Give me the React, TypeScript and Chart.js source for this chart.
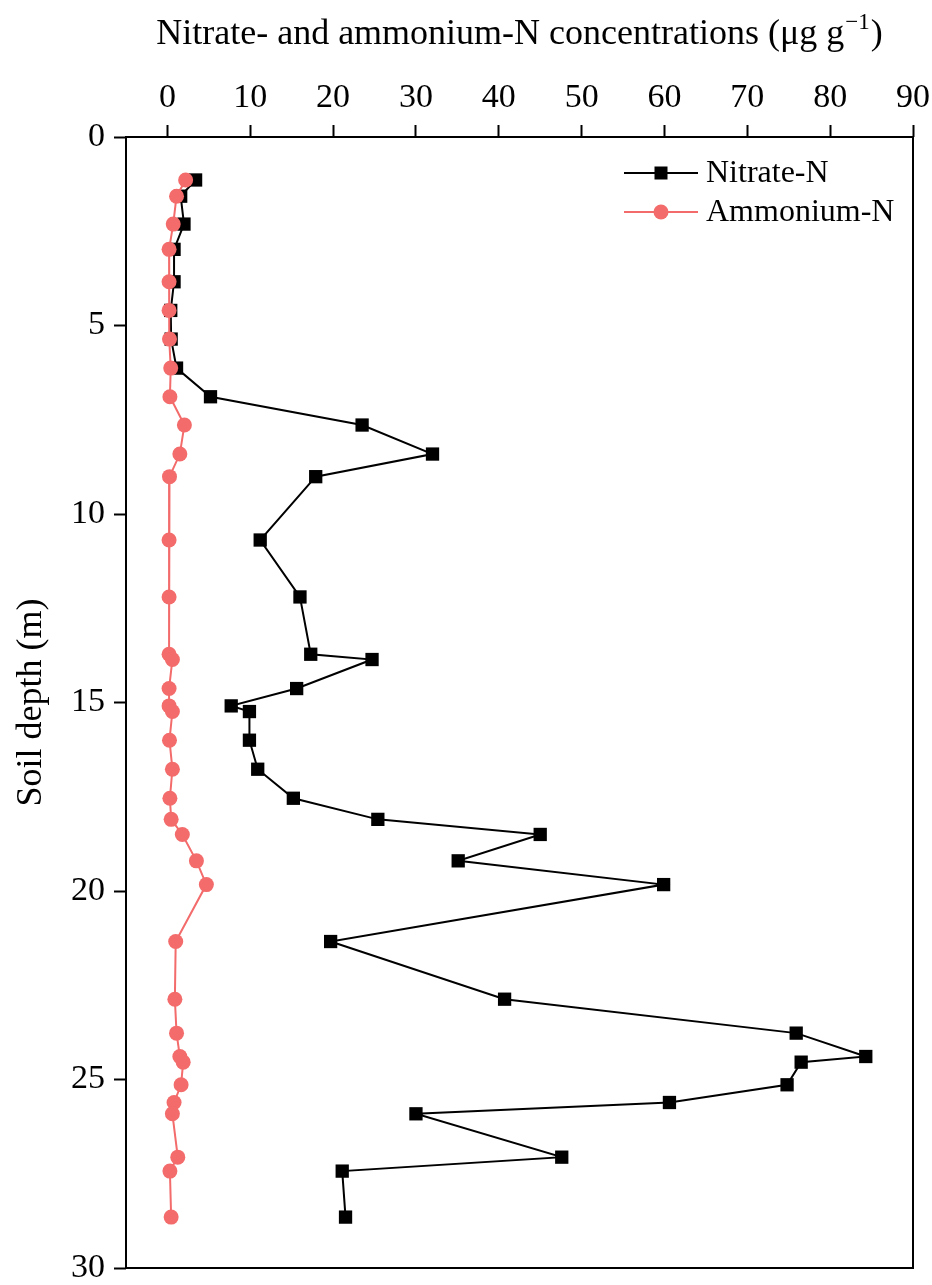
import React, { useEffect, useRef } from "react";
import { Chart, registerables } from "chart.js";

Chart.register(...registerables);

// Soil depth (m) of each sample
const depths = [
  1.14, 1.57, 2.31, 2.98, 3.84, 4.6, 5.36, 6.13, 6.89, 7.64, 8.41, 9.01, 10.69,
  12.2, 13.72, 13.86, 14.63, 15.09, 15.24, 16.0, 16.77, 17.54, 18.1, 18.5, 19.2,
  19.83, 21.34, 22.87, 23.77, 24.39, 24.54, 25.14, 25.61, 25.91, 27.06, 27.43,
  28.65,
];

// Nitrate-N concentrations (µg g-1)
const nitrate = [
  3.4, 1.6, 2.0, 0.8, 0.8, 0.4, 0.45, 1.1, 5.2, 23.5, 32.0, 17.9, 11.2, 16.0,
  17.3, 24.7, 15.6, 7.7, 9.9, 9.9, 10.9, 15.2, 25.4, 45.0, 35.1, 59.9, 19.7,
  40.7, 75.9, 84.3, 76.5, 74.8, 60.6, 30.0, 47.6, 21.1, 21.5,
];

// Ammonium-N concentrations (µg g-1)
const ammonium = [
  2.2, 1.1, 0.7, 0.2, 0.2, 0.2, 0.25, 0.4, 0.3, 2.05, 1.5, 0.25, 0.2, 0.2, 0.2,
  0.6, 0.2, 0.2, 0.6, 0.25, 0.6, 0.3, 0.45, 1.8, 3.5, 4.7, 1.0, 0.9, 1.1, 1.5,
  1.9, 1.65, 0.8, 0.6, 1.25, 0.3, 0.45,
];

const xTicks = [0, 10, 20, 30, 40, 50, 60, 70, 80, 90];
const yTicks = [0, 5, 10, 15, 20, 25, 30];
const xMin = -5;
const xMax = 90;
const yMin = 0;
const yMax = 30;

const seriesNames = ["Nitrate-N", "Ammonium-N"];
const xTitleMain = "Nitrate- and ammonium-N concentrations (μg g";
const xTitleSup = "−1";
const xTitleEnd = ")";
const yTitle = "Soil depth (m)";

const FONT = "'Liberation Serif', 'Times New Roman', serif";
const BLACK = "#000000";
const PINK = "#f36b6b";

const decorPlugin = {
  id: "decor",
  afterDraw(chart: any) {
    const { ctx, chartArea } = chart;
    const { left, top, right, bottom } = chartArea;
    ctx.save();
    // frame
    ctx.strokeStyle = BLACK;
    ctx.lineWidth = 2;
    ctx.strokeRect(left, top, right - left, bottom - top);

    // x axis title (top) with superscript
    ctx.fillStyle = BLACK;
    ctx.textBaseline = "alphabetic";
    ctx.textAlign = "left";
    const mainFont = `36px ${FONT}`;
    const supFont = `23px ${FONT}`;
    ctx.font = mainFont;
    const wMain = ctx.measureText(xTitleMain).width;
    const wEnd = ctx.measureText(xTitleEnd).width;
    ctx.font = supFont;
    const wSup = ctx.measureText(xTitleSup).width;
    const total = wMain + wSup + 2 + wEnd;
    let x = (left + right) / 2 - total / 2;
    const baseY = 44;
    ctx.font = mainFont;
    ctx.fillText(xTitleMain, x, baseY);
    x += wMain + 1;
    ctx.font = supFont;
    ctx.fillText(xTitleSup, x, baseY - 15);
    x += wSup + 1;
    ctx.font = mainFont;
    ctx.fillText(xTitleEnd, x, baseY);

    // y axis title
    ctx.save();
    ctx.translate(32, (top + bottom) / 2);
    ctx.rotate(-Math.PI / 2);
    ctx.textAlign = "center";
    ctx.textBaseline = "middle";
    ctx.font = mainFont;
    ctx.fillText(yTitle, 0, 0);
    ctx.restore();

    // legend
    const lx0 = 624;
    const lx1 = 698;
    const mx = 661;
    const rows = [173, 212];
    chart.data.datasets.forEach((ds: any, i: number) => {
      const y = rows[i];
      ctx.strokeStyle = ds.borderColor;
      ctx.lineWidth = ds.borderWidth;
      ctx.beginPath();
      ctx.moveTo(lx0, y);
      ctx.lineTo(lx1, y);
      ctx.stroke();
      ctx.fillStyle = ds.pointBackgroundColor;
      if (ds.pointStyle === "rect") {
        ctx.fillRect(mx - 6.5, y - 6.5, 13, 13);
      } else {
        ctx.beginPath();
        ctx.arc(mx, y, 7.5, 0, Math.PI * 2);
        ctx.fill();
      }
      ctx.fillStyle = BLACK;
      ctx.font = `32px ${FONT}`;
      ctx.textAlign = "left";
      ctx.textBaseline = "middle";
      ctx.fillText(ds.label, 706, y + 1);
    });
    ctx.restore();
  },
};

export default function App() {
  const ref = useRef<HTMLCanvasElement | null>(null);

  useEffect(() => {
    if (!ref.current) return;
    const nitratePts = depths.map((d, i) => ({ x: nitrate[i], y: d }));
    const ammoniumPts = depths.map((d, i) => ({ x: ammonium[i], y: d }));

    const chart = new Chart(ref.current, {
      type: "scatter",
      data: {
        datasets: [
          {
            label: seriesNames[0],
            data: nitratePts,
            showLine: true,
            borderColor: BLACK,
            borderWidth: 2,
            pointStyle: "rect",
            pointRadius: 9.4,
            pointBorderWidth: 0,
            pointBackgroundColor: BLACK,
            pointBorderColor: BLACK,
            order: 1,
          },
          {
            label: seriesNames[1],
            data: ammoniumPts,
            showLine: true,
            borderColor: PINK,
            borderWidth: 2,
            pointStyle: "circle",
            pointRadius: 7.5,
            pointBorderWidth: 0,
            pointBackgroundColor: PINK,
            pointBorderColor: PINK,
            order: 0,
          },
        ],
      },
      options: {
        responsive: false,
        animation: false,
        devicePixelRatio: 1,
        layout: { padding: { left: 0, top: 0, right: 19, bottom: 17 } },
        plugins: {
          legend: { display: false },
          tooltip: { enabled: false },
          title: { display: false },
        },
        scales: {
          x: {
            type: "linear",
            position: "top",
            min: xMin,
            max: xMax,
            afterBuildTicks: (scale: any) => {
              scale.ticks = xTicks.map((v) => ({ value: v }));
            },
            afterFit: (scale: any) => {
              scale.height = 137;
              scale.paddingLeft = 0;
              scale.paddingRight = 0;
            },
            border: { display: false },
            grid: {
              drawOnChartArea: false,
              drawTicks: true,
              tickLength: 12,
              tickWidth: 2,
              tickColor: BLACK,
            },
            ticks: {
              color: BLACK,
              padding: 7,
              maxRotation: 0,
              autoSkip: false,
              font: { family: FONT, size: 34 },
            },
          },
          y: {
            type: "linear",
            position: "left",
            reverse: true,
            min: yMin,
            max: yMax,
            afterBuildTicks: (scale: any) => {
              scale.ticks = yTicks.map((v) => ({ value: v }));
            },
            afterFit: (scale: any) => {
              scale.width = 126;
              scale.paddingTop = 0;
              scale.paddingBottom = 0;
            },
            border: { display: false },
            grid: {
              drawOnChartArea: false,
              drawTicks: true,
              tickLength: 12,
              tickWidth: 2,
              tickColor: BLACK,
            },
            ticks: {
              color: BLACK,
              padding: 9,
              autoSkip: false,
              font: { family: FONT, size: 34 },
            },
          },
        },
      },
      plugins: [decorPlugin],
    } as any);

    return () => chart.destroy();
  }, []);

  return (
    <div style={{ position: "absolute", left: 0, top: 0, width: 932, height: 1285, background: "#fff" }}>
      <canvas ref={ref} width={932} height={1285} style={{ display: "block" }} />
    </div>
  );
}
